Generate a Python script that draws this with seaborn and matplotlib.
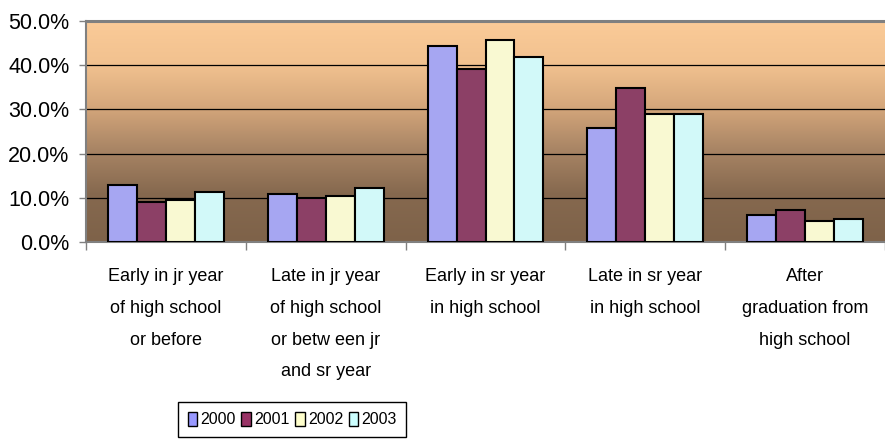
import pandas as pd
import matplotlib.pyplot as plt
import seaborn as sns
import numpy as np
from matplotlib.colors import LinearSegmentedColormap
from matplotlib.patches import Patch
from matplotlib.ticker import PercentFormatter

# chart data
stages = ["Early in jr year\nof high school\nor before",
          "Late in jr year\nof high school\nor betw een jr\nand sr year",
          "Early in sr year\nin high school",
          "Late in sr year\nin high school",
          "After\ngraduation from\nhigh school"]
years = ["2000", "2001", "2002", "2003"]
share_2000 = [0.128, 0.109, 0.443, 0.257, 0.061]
share_2001 = [0.090, 0.099, 0.391, 0.348, 0.072]
share_2002 = [0.095, 0.104, 0.458, 0.290, 0.047]
share_2003 = [0.114, 0.123, 0.419, 0.290, 0.051]
colors = ["#9999FF", "#993366", "#FFFFCC", "#CCFFFF"]

df = pd.DataFrame({
    "stage": stages * 4,
    "year": [y for y in years for _ in stages],
    "share": share_2000 + share_2001 + share_2002 + share_2003,
})

sns.set_style("white")
plt.rcParams["font.family"] = ["Liberation Sans", "DejaVu Sans"]
plt.rcParams["text.color"] = "black"

fig = plt.figure(figsize=(8.85, 4.46), dpi=100)
ax = fig.add_axes([86 / 885, 1 - 242 / 446, 1 - 86 / 885, 221 / 446])

# gradient plot area background
grad = LinearSegmentedColormap.from_list("bg", [
    (0.0, "#7E6249"), (0.22, "#86694F"), (0.42, "#A98565"),
    (0.62, "#D6A87C"), (0.8, "#F1C18F"), (1.0, "#FBCB98")])
ramp = np.linspace(1, 0, 256).reshape(-1, 1)
ax.imshow(ramp, cmap=grad, aspect="auto", extent=(-0.5, 4.5, 0, 0.5), zorder=0)

for yv in [0.1, 0.2, 0.3, 0.4]:
    ax.axhline(yv, color="black", linewidth=0.9, zorder=1)

sns.barplot(data=df, x="stage", y="share", hue="year", palette=colors,
            width=0.725, edgecolor="black", linewidth=1.5, legend=False, ax=ax)
for p in ax.patches:
    p.set_zorder(3)

ax.set_xlim(-0.5, 4.5)
ax.set_ylim(0, 0.5)
ax.set_xlabel("")
ax.set_ylabel("")
ax.set_yticks([0, 0.1, 0.2, 0.3, 0.4, 0.5])
ax.yaxis.set_major_formatter(PercentFormatter(1.0, decimals=1))
ax.tick_params(axis="y", length=5, width=1, color="#808080", labelsize=15.5,
               labelcolor="black", pad=7, left=True)
ax.set_xticks(range(5))
ax.set_xticklabels(stages, fontsize=13, linespacing=2.13, va="top", color="black")
ax.tick_params(axis="x", length=0, pad=19)
ax.set_xticks(np.arange(-0.5, 5, 1), minor=True)
ax.tick_params(axis="x", which="minor", length=6, width=1, color="#808080", bottom=True)

for side in ["top", "left", "bottom"]:
    ax.spines[side].set_color("#808080")
    ax.spines[side].set_linewidth(1.5)
ax.spines["right"].set_visible(False)
ax.spines["top"].set_linewidth(2.2)

handles = [Patch(facecolor=c, edgecolor="black", linewidth=1.0, label=y) for c, y in zip(colors, years)]
fig.legend(handles=handles, loc="upper left", bbox_to_anchor=(178 / 885, 1 - 402 / 446),
           borderaxespad=0, ncol=4, frameon=True, fancybox=False, edgecolor="black",
           framealpha=1, fontsize=11.5, handlelength=0.6, handleheight=1.0,
           handletextpad=0.2, columnspacing=0.35, borderpad=0.6)

plt.savefig("out.png", dpi=100)
